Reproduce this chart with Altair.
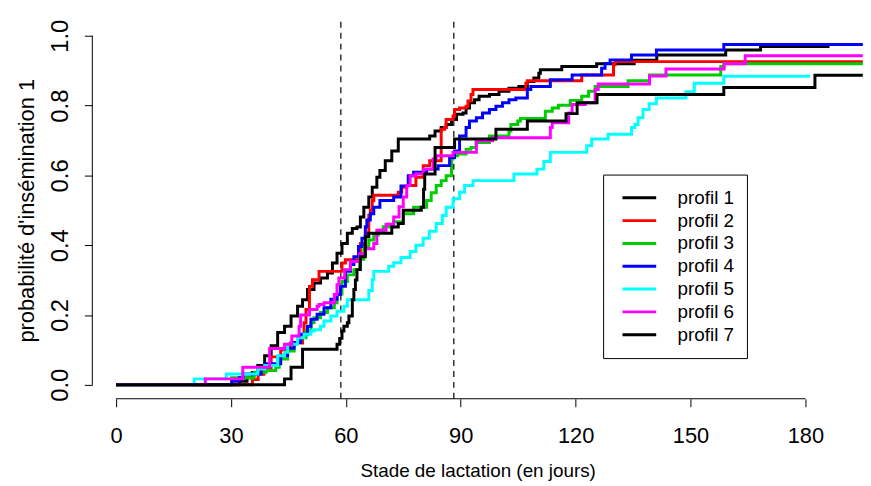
import altair as alt
import pandas as pd

# ---------------- data ----------------
profiles = ["profil 1", "profil 2", "profil 3", "profil 4", "profil 5", "profil 6", "profil 7"]
colors = ["#000000", "#FF0000", "#00CD00", "#0000FF", "#00FFFF", "#FF00FF", "#000000"]

p1_days = [0, 32.2, 34.2, 35.6, 37.0, 38.8, 40.5, 42.2, 44.0, 45.7, 47.4, 48.7, 50.0, 51.7, 53.4, 55.2, 56.5,
           57.7, 59.0, 60.4, 61.7, 62.9, 63.8, 64.7, 66.0, 66.9, 68.1, 68.9, 70.3, 72.0, 73.7, 81.9, 83.3, 84.9,
           86.2, 87.6, 88.9, 90.6, 91.4, 92.3, 93.6, 94.8, 97.5, 100.0, 102.6, 105.2, 107.4, 109.1, 110.4, 110.8,
           116.4, 125.5, 135.3, 141.2, 159.2, 168.3, 186.3]
p1_prob = [0, 0.01, 0.02, 0.035, 0.055, 0.083, 0.112, 0.15, 0.168, 0.197, 0.225, 0.244, 0.273, 0.292, 0.306, 0.32,
           0.349, 0.377, 0.405, 0.434, 0.448, 0.452, 0.481, 0.509, 0.538, 0.566, 0.595, 0.614, 0.642, 0.67, 0.704,
           0.713, 0.727, 0.737, 0.746, 0.76, 0.775, 0.779, 0.793, 0.808, 0.817, 0.827, 0.832, 0.841, 0.85, 0.855,
           0.869, 0.879, 0.893, 0.903, 0.912, 0.92, 0.93, 0.945, 0.959, 0.969, 0.969]

p2_days = [0, 35.6, 37.1, 38.6, 40.5, 43.0, 45.5, 48.7, 49.1, 49.6, 50.5, 51.3, 53.0, 59.0, 59.9, 63.8, 65.1,
           66.0, 66.4, 66.9, 67.3, 73.7, 74.6, 75.9, 78.3, 80.2, 81.9, 84.9, 85.8, 86.2, 88.0, 88.4, 89.7, 91.4,
           91.9, 92.7, 93.2, 107.0, 107.4, 121.6, 129.9, 130.3, 195.0]
p2_prob = [0, 0.015, 0.03, 0.045, 0.08, 0.1, 0.12, 0.14, 0.178, 0.216, 0.282, 0.301, 0.325, 0.349, 0.358, 0.405,
           0.434, 0.486, 0.5, 0.528, 0.543, 0.552, 0.566, 0.571, 0.595, 0.628, 0.642, 0.732, 0.737, 0.76, 0.77,
           0.789, 0.793, 0.798, 0.813, 0.832, 0.846, 0.864, 0.871, 0.888, 0.917, 0.926, 0.926]

p3_days = [0, 30.2, 36.1, 39.2, 41.7, 42.6, 44.8, 46.5, 48.2, 49.6, 50.9, 51.7, 53.4, 55.2, 57.0, 57.7, 59.0,
           60.4, 62.1, 63.6, 64.7, 66.0, 67.3, 68.5, 69.8, 72.5, 75.0, 77.7, 81.1, 82.3, 83.6, 84.9, 86.2, 87.6,
           88.0, 89.2, 91.4, 92.7, 94.0, 97.5, 102.6, 103.1, 104.9, 105.6, 112.1, 113.9, 115.5, 118.6, 121.6,
           123.4, 125.1, 133.7, 139.3, 157.9, 158.7, 195.0]
p3_prob = [0, 0.02, 0.036, 0.041, 0.05, 0.074, 0.097, 0.121, 0.135, 0.154, 0.178, 0.192, 0.207, 0.221, 0.235,
           0.26, 0.296, 0.315, 0.33, 0.36, 0.396, 0.415, 0.429, 0.443, 0.453, 0.467, 0.49, 0.509, 0.528, 0.55,
           0.571, 0.585, 0.599, 0.647, 0.656, 0.661, 0.675, 0.68, 0.694, 0.713, 0.727, 0.746, 0.756, 0.763, 0.784,
           0.793, 0.801, 0.815, 0.827, 0.841, 0.855, 0.871, 0.888, 0.912, 0.92, 0.92]

p4_days = [0, 30.2, 32.2, 33.2, 37.9, 39.2, 43.0, 44.8, 46.5, 48.2, 50.0, 50.9, 52.5, 54.3, 56.1, 57.7, 58.6,
           59.9, 61.2, 62.1, 63.3, 64.2, 65.1, 65.5, 66.4, 67.3, 68.9, 72.5, 74.4, 76.3, 77.7, 81.1, 84.1, 87.1,
           88.4, 89.7, 91.4, 92.3, 94.1, 95.7, 97.5, 99.2, 100.9, 102.6, 104.4, 107.4, 108.3, 113.4, 119.1, 126.8,
           127.7, 129.0, 134.6, 141.1, 158.7, 195.0]
p4_prob = [0, 0.01, 0.02, 0.031, 0.05, 0.06, 0.083, 0.105, 0.121, 0.145, 0.168, 0.188, 0.202, 0.221, 0.245, 0.259,
           0.282, 0.325, 0.345, 0.367, 0.396, 0.42, 0.453, 0.472, 0.49, 0.509, 0.528, 0.538, 0.57, 0.599, 0.609,
           0.618, 0.628, 0.651, 0.67, 0.713, 0.737, 0.756, 0.765, 0.779, 0.789, 0.798, 0.808, 0.817, 0.822, 0.846,
           0.855, 0.874, 0.888, 0.907, 0.921, 0.931, 0.945, 0.959, 0.975, 0.975]

p5_days = [0, 20.4, 28.8, 37.0, 38.8, 42.2, 44.0, 44.8, 47.4, 49.1, 50.9, 51.7, 53.4, 54.3, 56.1, 57.7, 59.5,
           60.4, 66.0, 66.9, 67.3, 71.2, 72.5, 74.4, 76.8, 78.3, 80.2, 81.8, 83.6, 85.2, 86.2, 88.0, 89.7, 91.0,
           93.2, 103.9, 109.9, 111.7, 113.4, 122.9, 124.2, 128.5, 134.6, 135.5, 136.3, 137.6, 139.2, 141.1, 148.8,
           151.0, 158.7, 181.2]
p5_prob = [0, 0.017, 0.031, 0.045, 0.055, 0.083, 0.093, 0.116, 0.135, 0.145, 0.154, 0.158, 0.168, 0.183, 0.197,
           0.211, 0.225, 0.244, 0.27, 0.301, 0.325, 0.34, 0.35, 0.365, 0.382, 0.4, 0.42, 0.44, 0.462, 0.485,
           0.509, 0.533, 0.552, 0.571, 0.585, 0.604, 0.618, 0.64, 0.666, 0.685, 0.704, 0.718, 0.737, 0.746, 0.765,
           0.789, 0.805, 0.822, 0.84, 0.864, 0.884, 0.884]

p6_days = [0, 23.3, 33.1, 40.1, 44.0, 45.9, 47.8, 48.2, 50.5, 52.5, 53.0, 54.3, 57.0, 57.7, 58.2, 59.7, 61.2,
           63.6, 65.1, 67.3, 68.1, 70.5, 72.5, 73.9, 75.0, 75.9, 76.8, 78.3, 80.3, 82.8, 83.6, 88.0, 94.1, 98.3,
           113.4, 113.9, 118.2, 119.1, 122.5, 125.1, 125.9, 139.3, 143.6, 158.8, 164.3, 195.0]
p6_prob = [0, 0.017, 0.05, 0.104, 0.116, 0.14, 0.168, 0.2, 0.216, 0.225, 0.23, 0.235, 0.259, 0.287, 0.306, 0.33,
           0.353, 0.375, 0.39, 0.405, 0.443, 0.46, 0.481, 0.51, 0.538, 0.571, 0.599, 0.605, 0.618, 0.647, 0.656,
           0.666, 0.699, 0.708, 0.737, 0.751, 0.779, 0.803, 0.808, 0.846, 0.862, 0.885, 0.905, 0.92, 0.943, 0.943]

p7_days = [0, 44.0, 45.7, 48.7, 57.7, 58.4, 59.0, 59.5, 60.4, 60.8, 61.7, 62.1, 62.5, 62.9, 63.8, 65.1, 66.0,
           72.0, 73.7, 75.0, 79.7, 80.3, 80.6, 83.3, 88.4, 99.2, 107.4, 117.5, 120.4, 125.6, 158.7, 182.5, 195.0]
p7_prob = [0, 0.017, 0.05, 0.102, 0.116, 0.133, 0.154, 0.168, 0.178, 0.197, 0.244, 0.273, 0.30, 0.33, 0.367,
           0.424, 0.434, 0.452, 0.462, 0.5, 0.509, 0.56, 0.604, 0.68, 0.704, 0.732, 0.756, 0.777, 0.808, 0.832,
           0.852, 0.887, 0.887]

x_ticks = [0, 30, 60, 90, 120, 150, 180]
y_ticks = [0.0, 0.2, 0.4, 0.6, 0.8, 1.0]
ref_days = [58.7, 88.2]

# ---------------- build table ----------------
series = [p1_days, p2_days, p3_days, p4_days, p5_days, p6_days, p7_days]
probs = [p1_prob, p2_prob, p3_prob, p4_prob, p5_prob, p6_prob, p7_prob]
rows = []
for k, (name, ds, ps) in enumerate(zip(profiles, series, probs)):
    for i, (d, p) in enumerate(zip(ds, ps)):
        rows.append({"profil": name, "day": d, "p": p, "k": k, "i": i})
df = pd.DataFrame(rows)

X_MIN, X_MAX = -6.2, 195.05
Y_MIN, Y_MAX = -0.04, 1.04
W, H = 777, 380
FONT = "Liberation Sans"

xs = alt.Scale(domain=[X_MIN, X_MAX], nice=False, zero=False)
ys = alt.Scale(domain=[Y_MIN, Y_MAX], nice=False, zero=False)

x_axis = alt.Axis(values=x_ticks, domain=False, grid=False, tickSize=8, tickColor="black", tickWidth=1,
                  labelFontSize=22, labelColor="black", labelFont=FONT, labelPadding=19,
                  labelFlush=False, labelOverlap=False,
                  title="Stade de lactation (en jours)", titleFont=FONT, titleFontSize=19,
                  titleFontWeight="normal", titleColor="black", titlePadding=15)
y_axis = alt.Axis(values=y_ticks, domain=False, grid=False, tickSize=8, tickColor="black", tickWidth=1,
                  labelFontSize=24, labelColor="black", labelFont=FONT, labelPadding=12,
                  labelAngle=-90, labelAlign="center", labelBaseline="bottom", format=".1f",
                  labelFlush=False, labelOverlap=False,
                  title="probabilité d'insémination 1", titleFont=FONT, titleFontSize=22,
                  titleFontWeight="normal", titleColor="black", titlePadding=10)

legend = alt.Legend(orient="none", legendX=515, legendY=154, title=None,
                    symbolType="stroke", symbolSize=34 * 34, symbolStrokeWidth=3, symbolOffset=6,
                    clipHeight=22.8, rowPadding=0, labelOffset=20,
                    labelFontSize=19, labelFont=FONT, labelColor="black",
                    padding=12, strokeColor="black", fillColor="white", cornerRadius=0)

X = lambda f: alt.X(f, scale=xs, axis=x_axis)
Y = lambda f: alt.Y(f, scale=ys, axis=y_axis)

lines = alt.Chart(df).mark_line(interpolate="step-after", strokeWidth=3, clip=True).encode(
    x=X("day:Q"),
    y=Y("p:Q"),
    color=alt.Color("profil:N", scale=alt.Scale(domain=profiles, range=colors), legend=legend),
    detail="k:N",
    order="i:Q",
)

refs = alt.Chart(pd.DataFrame({"day": ref_days})).mark_rule(
    color="black", strokeWidth=1.2, strokeDash=[6, 5]).encode(x=X("day:Q"))

yaxis_line = alt.Chart(pd.DataFrame({"day": [X_MIN], "p": [0.0], "p2": [1.0]})).mark_rule(
    color="black", strokeWidth=1).encode(x=X("day:Q"), y=Y("p:Q"), y2="p2:Q")

xaxis_line = alt.Chart(pd.DataFrame({"day": [0.0], "day2": [180.0], "p": [Y_MIN]})).mark_rule(
    color="black", strokeWidth=1).encode(x=X("day:Q"), x2="day2:Q", y=Y("p:Q"))

chart = alt.layer(refs, lines, yaxis_line, xaxis_line).properties(
    width=W, height=H,
    autosize=alt.AutoSizeParams(type="none"),
    padding={"left": 85, "top": 12, "right": 0, "bottom": 86},
    background="white",
).configure_view(stroke=None)

chart.save("out.html", embed_options={"renderer": "svg", "actions": False})
